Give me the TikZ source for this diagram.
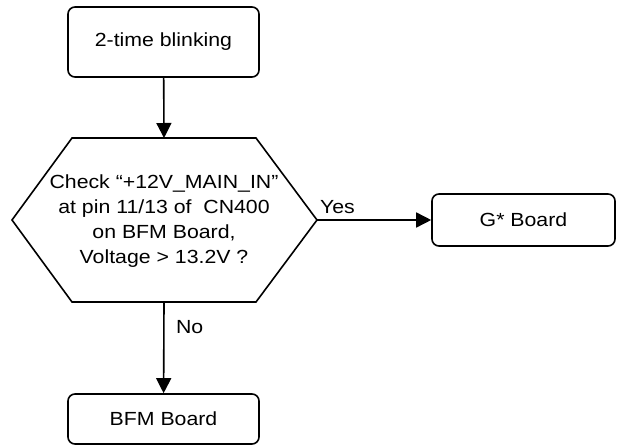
\documentclass[tikz,border=0pt]{standalone}
\usepackage{fontspec}
\setmainfont{Liberation Sans}[FakeStretch=1.12]
\usetikzlibrary{arrows.meta, positioning}

\begin{document}
\begin{tikzpicture}[x=1bp, y=-1bp, line width=1.6bp,
        font=\fontsize{19bp}{25bp}\selectfont,
        flowbox/.style={draw, rounded corners=7bp, inner sep=0pt},
        flowarrow/.style={-{Triangle[length=15bp, width=15bp]}}]
            \useasboundingbox (0,0) rectangle (617,445);

            % Start box
            \node[flowbox, minimum width=191bp, minimum height=70bp] (blink) at (163.5,42) {2-time blinking};

            % Decision hexagon
            \coordinate (dtop) at (164,138);
            \coordinate (dright) at (317,220);
            \coordinate (dbot) at (164,302);
            \draw (12,220) -- (72,138) -- (256,138) -- (dright) -- (256,302) -- (72,302) -- cycle;
            \node[align=center] (check) at (164,221) {Check “+12V\_MAIN\_IN”\\at pin 11/13 of~ CN400\\on BFM Board,\\Voltage > 13.2V ?};

            % Result boxes
            \node[flowbox, minimum width=183bp, minimum height=52bp] (gboard) at (523.5,220) {G* Board};
            \node[flowbox, minimum width=191bp, minimum height=50bp] (bfm) at (163.5,419) {BFM Board};

            % Connectors
            \draw[flowarrow] (blink) -- (dtop);
            \draw[flowarrow] (dright) -- (gboard) node[pos=0.02, anchor=south west, inner sep=0pt, yshift=6bp] {Yes};
            \draw[flowarrow] (dbot) -- (bfm) node[pos=0.27, right=8bp] {No};
        \end{tikzpicture}
\end{document}
